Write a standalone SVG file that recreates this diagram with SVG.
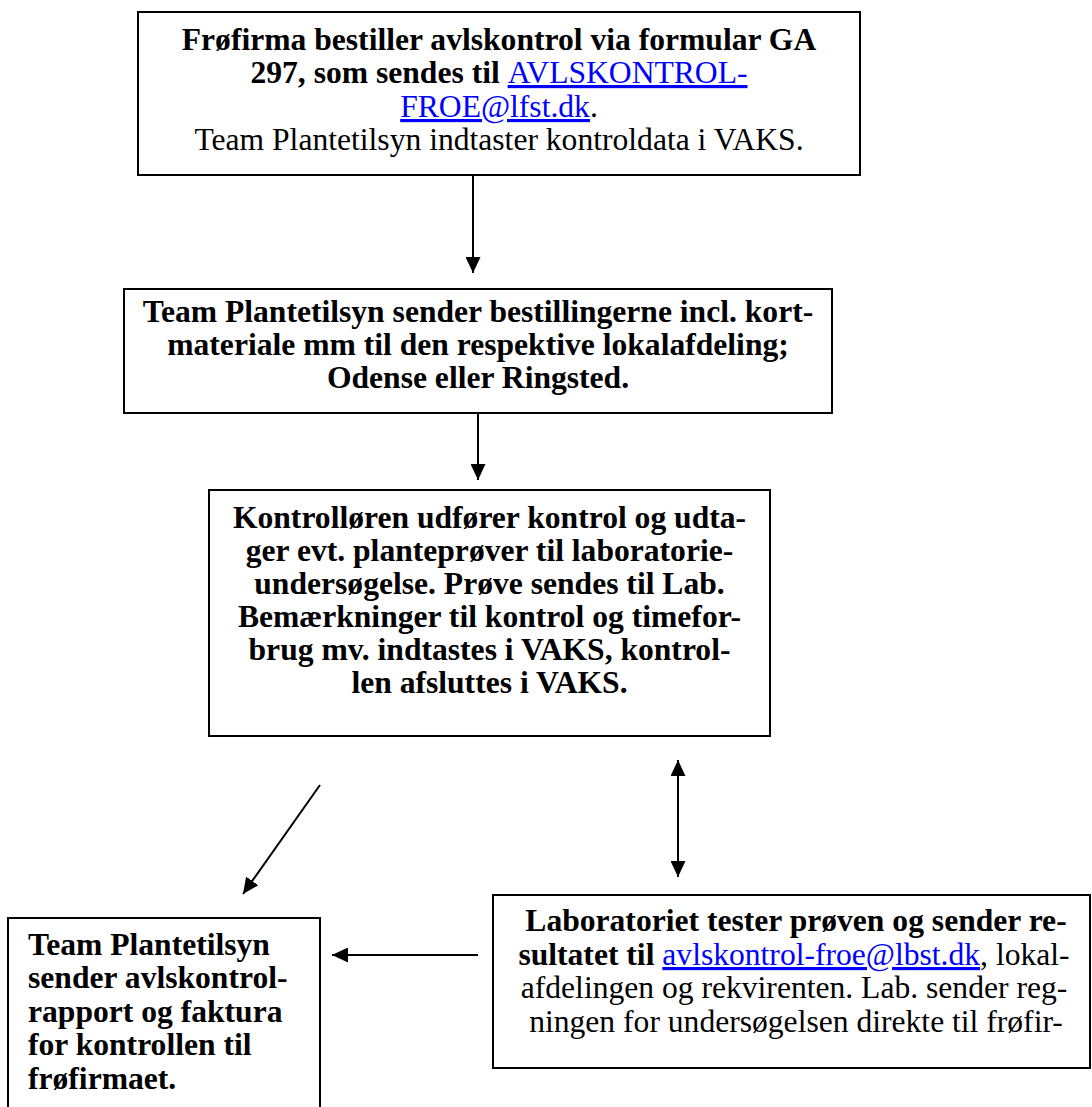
<svg xmlns="http://www.w3.org/2000/svg" width="1092" height="1107" viewBox="0 0 1092 1107">
<style>
  .box { fill: #ffffff; stroke: #000000; stroke-width: 2; }
  .t { font-family: "Liberation Serif", "Times New Roman", serif; font-size: 31.6px; fill: #000000; }
  .b { font-weight: bold; }
  .n { font-weight: normal; }
  .link { fill: #0000ff; text-decoration: underline; font-weight: normal; }
  .conn { stroke: #000000; stroke-width: 2; fill: none; }
</style>
<defs>
  <marker id="ah" markerUnits="userSpaceOnUse" markerWidth="16" markerHeight="15" refX="16" refY="7.5" orient="auto-start-reverse">
    <path d="M0,0 L16,7.5 L0,15 Z" fill="#000000"/>
  </marker>
</defs>
<rect width="1092" height="1107" fill="#ffffff"/>

<g id="node1">
  <rect class="box" x="138" y="12" width="722" height="163"/>
  <text class="t b" text-anchor="middle" x="499" y="50">Frøfirma bestiller avlskontrol via formular GA</text>
  <text class="t b" text-anchor="middle" x="499" y="83">297, som sendes til <tspan class="link">AVLSKONTROL-</tspan></text>
  <text class="t n" text-anchor="middle" x="499" y="117"><tspan class="link">FROE@lfst.dk</tspan>.</text>
  <text class="t n" text-anchor="middle" x="499" y="150">Team Plantetilsyn indtaster kontroldata i VAKS.</text>
</g>

<g id="node2">
  <rect class="box" x="124" y="289" width="708" height="124"/>
  <text class="t b" text-anchor="middle" x="478" y="322">Team Plantetilsyn sender bestillingerne incl. kort-</text>
  <text class="t b" text-anchor="middle" x="478" y="355">materiale mm til den respektive lokalafdeling;</text>
  <text class="t b" text-anchor="middle" x="478" y="388">Odense eller Ringsted.</text>
</g>

<g id="node3">
  <rect class="box" x="209" y="490" width="561" height="246"/>
  <text class="t b" text-anchor="middle" x="489.5" y="528">Kontrolløren udfører kontrol og udta-</text>
  <text class="t b" text-anchor="middle" x="489.5" y="561">ger evt. planteprøver til laboratorie-</text>
  <text class="t b" text-anchor="middle" x="489.5" y="594">undersøgelse. Prøve sendes til Lab.</text>
  <text class="t b" text-anchor="middle" x="489.5" y="627">Bemærkninger til kontrol og timefor-</text>
  <text class="t b" text-anchor="middle" x="489.5" y="660">brug mv. indtastes i VAKS, kontrol-</text>
  <text class="t b" text-anchor="middle" x="489.5" y="693">len afsluttes i VAKS.</text>
</g>

<g id="node4">
  <path class="box" d="M8,1110 V918 H320 V1110"/>
  <text class="t b" x="28" y="955">Team Plantetilsyn</text>
  <text class="t b" x="28" y="988">sender avlskontrol-</text>
  <text class="t b" x="28" y="1022">rapport og faktura</text>
  <text class="t b" x="28" y="1055">for kontrollen til</text>
  <text class="t b" x="28" y="1089">frøfirmaet.</text>
</g>

<g id="node5">
  <rect class="box" x="493" y="895" width="597" height="173"/>
  <text class="t b" text-anchor="middle" x="796" y="931">Laboratoriet tester prøven og sender re-</text>
  <text class="t b" text-anchor="middle" x="794" y="965">sultatet til <tspan class="link">avlskontrol-froe@lbst.dk</tspan><tspan class="n">, lokal-</tspan></text>
  <text class="t n" text-anchor="middle" x="794" y="998">afdelingen og rekvirenten. Lab. sender reg-</text>
  <text class="t n" text-anchor="middle" x="796" y="1032">ningen for undersøgelsen direkte til frøfir-</text>
</g>

<g id="connectors">
  <line class="conn" x1="473" y1="175" x2="473" y2="273" marker-end="url(#ah)"/>
  <line class="conn" x1="478" y1="413" x2="478" y2="480" marker-end="url(#ah)"/>
  <line class="conn" x1="320" y1="785" x2="243" y2="894" marker-end="url(#ah)"/>
  <line class="conn" x1="678" y1="760" x2="678" y2="877" marker-start="url(#ah)" marker-end="url(#ah)"/>
  <line class="conn" x1="478" y1="955" x2="332" y2="955" marker-end="url(#ah)"/>
</g>
</svg>
